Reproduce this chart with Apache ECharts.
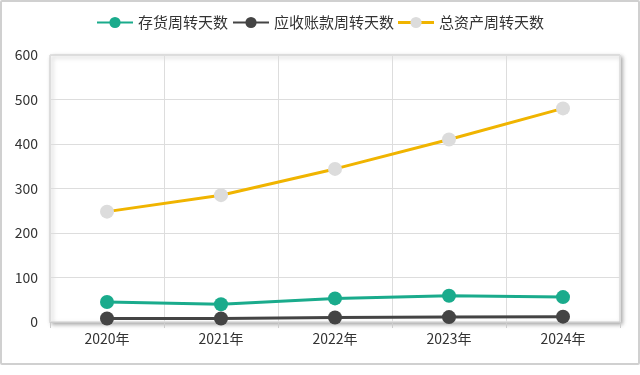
<!DOCTYPE html>
<html><head><meta charset="utf-8">
<script src="https://cdn.jsdelivr.net/npm/echarts@6/dist/echarts.min.js"></script>
<style>html,body{margin:0;padding:0;background:#fff;}#c{width:636px;height:361px;border:2px solid #d0d0d0;border-radius:2px;}</style>
</head><body><div id="c"></div>
<script>
const categories = ['2020年','2021年','2022年','2023年','2024年'];
const inventoryDays = [45, 40, 53, 59, 56];
const receivableDays = [8, 8, 10, 11, 12];
const totalAssetDays = [248, 285, 344, 410, 480];
const chart = echarts.init(document.getElementById('c'));
const font = '"Noto Sans CJK SC", sans-serif';
const yellowIcon = 'image://data:image/svg+xml;charset=utf-8,' + encodeURIComponent(
  '<svg xmlns="http://www.w3.org/2000/svg" width="36" height="14" viewBox="0 0 36 14">' +
  '<line x1="0" y1="7" x2="36" y2="7" stroke="#f0b400" stroke-width="3"/>' +
  '<circle cx="18" cy="7" r="5.6" fill="#dcdcdc"/></svg>');
chart.setOption({
  animation:false,
  backgroundColor:'#fff',
  textStyle:{fontFamily:font},
  legend:{top:8,left:'center',itemWidth:36,itemHeight:14,itemGap:4,
    textStyle:{fontSize:15,color:'#333',fontFamily:font},
    data:[
      {name:'存货周转天数'},
      {name:'应收账款周转天数'},
      {name:'总资产周转天数',icon:yellowIcon}
    ]},
  grid:{left:48,right:18,top:53,bottom:41,show:true,backgroundColor:'#fff',borderColor:'#ccc',borderWidth:1,
    shadowColor:'rgba(0,0,0,0.35)',shadowBlur:4,shadowOffsetX:2,shadowOffsetY:2},
  xAxis:{type:'category',data:categories,boundaryGap:true,
    axisLine:{lineStyle:{color:'#ccc'}},
    axisTick:{show:true,lineStyle:{color:'#ccc'},length:6},
    axisLabel:{color:'#333',fontSize:14,margin:10,fontFamily:font},
    splitLine:{show:true,lineStyle:{color:'#ddd'}}},
  yAxis:{type:'value',min:0,max:600,interval:100,
    axisLine:{show:false},axisTick:{show:false},
    axisLabel:{color:'#333',fontSize:14,margin:12,fontFamily:font},
    splitLine:{show:true,lineStyle:{color:'#ddd'}}},
  series:[
    {name:'存货周转天数',type:'line',data:inventoryDays,symbol:'circle',symbolSize:14,
      lineStyle:{width:3,color:'#1aab8c'},itemStyle:{color:'#1aab8c'}},
    {name:'应收账款周转天数',type:'line',data:receivableDays,symbol:'circle',symbolSize:14,
      lineStyle:{width:3,color:'#444'},itemStyle:{color:'#444'}},
    {name:'总资产周转天数',type:'line',data:totalAssetDays,
      symbol:'circle',symbolSize:14,
      lineStyle:{width:3,color:'#f0b400'},itemStyle:{color:'#dcdcdc'}}
  ]
});
</script></body></html>
